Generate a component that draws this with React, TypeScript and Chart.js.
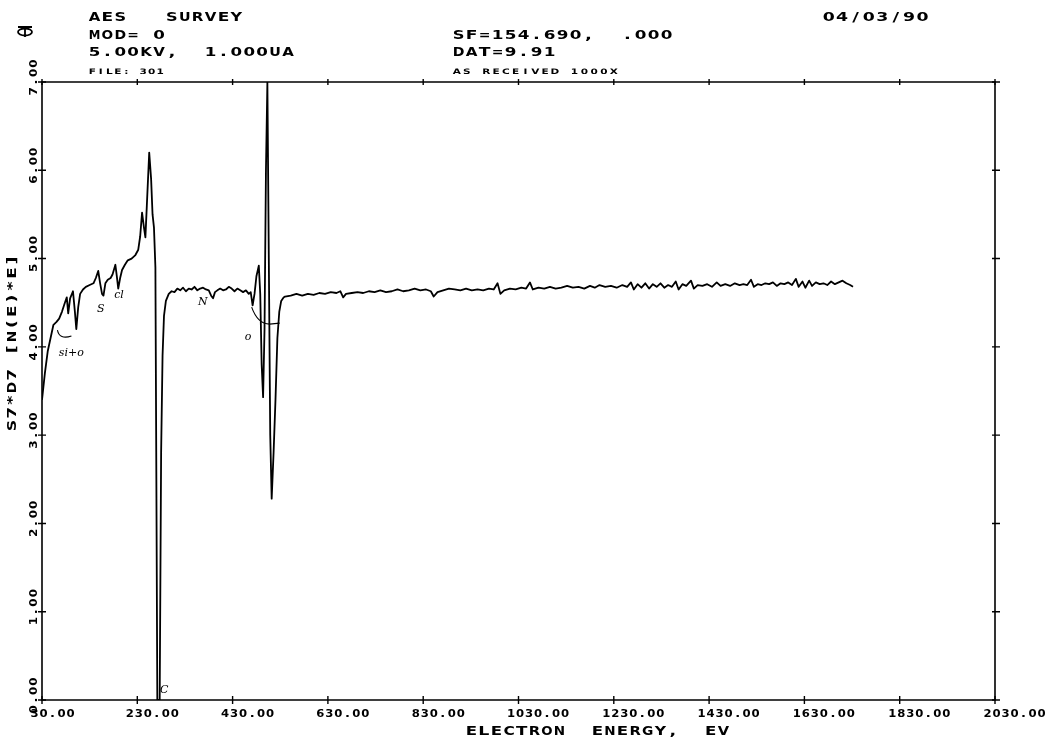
import React, { useEffect, useRef } from "react";
import { Chart, registerables } from "chart.js";

Chart.register(...registerables);

// ---- Data ----
const energyEV = [
  30, 36, 42, 48, 54, 60, 66, 72, 78, 82, 85, 89, 95, 99, 102, 106, 110, 116, 122, 130,
  138, 143, 148, 152, 156, 159, 163, 168, 174, 178, 184, 187, 190, 194, 198, 204, 210, 218, 226, 232,
  236, 240, 244, 247, 250, 255, 259, 262, 265, 268, 270, 272, 277, 280, 283, 286, 290, 296, 302, 308,
  314, 320, 326, 332, 338, 344, 350, 356, 362, 368, 374, 380, 385, 389, 393, 398, 404, 410, 416, 422,
  428, 434, 440, 446, 452, 458, 464, 468, 472, 476, 480, 485, 488, 491, 494, 497, 500, 503, 506, 509,
  512, 516, 520, 524, 528, 532, 537,
  540, 552, 564, 576, 588, 600, 612, 624, 636, 648, 656, 662, 668, 680, 692, 704, 716, 728, 740, 752,
  764, 776, 788, 800, 812, 824, 836, 846, 852, 860, 872, 884, 896, 908, 920, 932, 944, 956, 968, 978,
  986, 992, 1000, 1012, 1024, 1036, 1046, 1054, 1060, 1072, 1084, 1096, 1108, 1120, 1132, 1144, 1156, 1168, 1180, 1190,
  1200, 1212, 1224, 1236, 1248, 1258, 1266, 1272, 1280, 1288, 1296, 1304, 1312, 1320, 1328, 1336, 1344, 1352, 1360, 1366,
  1374, 1382, 1392, 1398, 1406, 1416, 1426, 1436, 1446, 1454, 1464, 1474, 1484, 1494, 1502, 1510, 1518, 1524, 1532, 1540,
  1548, 1556, 1564, 1572, 1580, 1588, 1596, 1604, 1612, 1618, 1626, 1632, 1640, 1646, 1654, 1662, 1670, 1678, 1686, 1694,
  1702, 1710, 1718, 1726, 1732,
];

const signalValues = [
  3.40, 3.70, 3.95, 4.10, 4.25, 4.28, 4.32, 4.40, 4.50, 4.56, 4.38, 4.55, 4.63, 4.40, 4.20, 4.45, 4.60, 4.65, 4.68, 4.70,
  4.72, 4.78, 4.86, 4.72, 4.60, 4.58, 4.72, 4.76, 4.78, 4.82, 4.93, 4.80, 4.66, 4.78, 4.87, 4.93, 4.98, 5.00, 5.04, 5.10,
  5.25, 5.52, 5.35, 5.24, 5.60, 6.20, 5.90, 5.50, 5.35, 4.90, 2.50, 0.00, 0.00, 2.80, 3.90, 4.35, 4.52, 4.60, 4.63, 4.62,
  4.66, 4.64, 4.67, 4.63, 4.66, 4.65, 4.68, 4.64, 4.66, 4.67, 4.65, 4.64, 4.58, 4.55, 4.62, 4.64, 4.66, 4.64, 4.65, 4.68,
  4.66, 4.63, 4.66, 4.64, 4.62, 4.64, 4.60, 4.62, 4.47, 4.60, 4.80, 4.92, 4.60, 3.80, 3.43, 4.20, 6.00, 7.00, 5.00, 3.00,
  2.28, 2.80, 3.40, 4.10, 4.40, 4.52, 4.56,
  4.57, 4.58, 4.60, 4.58, 4.60, 4.59, 4.61, 4.60, 4.62, 4.61, 4.63, 4.56, 4.60, 4.61, 4.62, 4.61, 4.63, 4.62, 4.64, 4.62,
  4.63, 4.65, 4.63, 4.64, 4.66, 4.64, 4.65, 4.63, 4.57, 4.62, 4.64, 4.66, 4.65, 4.64, 4.66, 4.64, 4.65, 4.64, 4.66, 4.65,
  4.72, 4.60, 4.64, 4.66, 4.65, 4.67, 4.66, 4.73, 4.65, 4.67, 4.66, 4.68, 4.66, 4.67, 4.69, 4.67, 4.68, 4.66, 4.69, 4.67,
  4.70, 4.68, 4.69, 4.67, 4.70, 4.68, 4.73, 4.65, 4.71, 4.67, 4.72, 4.66, 4.71, 4.68, 4.72, 4.67, 4.70, 4.68, 4.74, 4.65,
  4.71, 4.69, 4.75, 4.66, 4.70, 4.69, 4.71, 4.68, 4.73, 4.69, 4.71, 4.69, 4.72, 4.70, 4.71, 4.70, 4.76, 4.68, 4.71, 4.70,
  4.72, 4.71, 4.73, 4.69, 4.72, 4.71, 4.73, 4.70, 4.77, 4.68, 4.74, 4.67, 4.75, 4.69, 4.73, 4.71, 4.72, 4.70, 4.74, 4.71,
  4.73, 4.75, 4.72, 4.70, 4.68,
];

const xTickValues = [30, 230, 430, 630, 830, 1030, 1230, 1430, 1630, 1830, 2030];
const xTickLabels = ["30.00", "230.00", "430.00", "630.00", "830.00", "1030.00", "1230.00", "1430.00", "1630.00", "1830.00", "2030.00"];
const yTickValues = [0, 1, 2, 3, 4, 5, 6, 7];
const yTickLabels = ["0.00", "1.00", "2.00", "3.00", "4.00", "5.00", "6.00", "7.00"];

const headerLeft = ["AES   SURVEY", "MOD= 0", "5.00KV,  1.000UA"];
const headerRight = ["SF=154.690,  .000", "DAT=9.91"];
const headerDate = "04/03/90";
const fileNote = "FILE: 301";
const sampleNote = "AS RECEIVED 1000X";
const xTitle = "ELECTRON  ENERGY,  EV";
const yTitle = "S7*D7 [N(E)*E]";

// handwritten peak notes: [label, energy, value]
const noteLabels = ["si+o", "S", "cl", "N", "o", "C"];
const noteEnergy = [78, 158, 194, 370, 468, 290];
const noteValue = [3.90, 4.40, 4.55, 4.47, 4.08, 0.08];

function spaced(ctx: CanvasRenderingContext2D, text: string, x: number, y: number, size: number, pitch: number, sx: number) {
  ctx.font = `bold ${size}px "DejaVu Sans"`;
  ctx.textAlign = "center";
  for (let i = 0; i < text.length; i++) {
    const ch = text[i];
    if (ch === " ") continue;
    const w = ctx.measureText(ch).width || 1;
    const s = Math.min(sx, (pitch * 0.9) / w);
    ctx.save();
    ctx.translate(x + (i + 0.5) * pitch, y);
    ctx.scale(s, 1);
    ctx.fillText(ch, 0, 0);
    ctx.restore();
  }
}

const plotterPlugin = {
  id: "plotter",
  afterDraw(chart: any) {
    const ctx: CanvasRenderingContext2D = chart.ctx;
    const { left, right, top, bottom } = chart.chartArea;
    const xs = chart.scales.x;
    const ys = chart.scales.y;
    ctx.save();
    ctx.strokeStyle = "#000";
    ctx.fillStyle = "#000";
    ctx.lineWidth = 1.6;
    // frame
    ctx.beginPath();
    ctx.moveTo(left, top);
    ctx.lineTo(right, top);
    ctx.lineTo(right, bottom);
    ctx.lineTo(left, bottom);
    ctx.closePath();
    ctx.stroke();
    // ticks
    ctx.lineWidth = 1.4;
    ctx.beginPath();
    xTickValues.forEach((v) => {
      const px = xs.getPixelForValue(v);
      ctx.moveTo(px, bottom - 4); ctx.lineTo(px, bottom + 4);
      ctx.moveTo(px, top - 3); ctx.lineTo(px, top + 3);
    });
    yTickValues.forEach((v) => {
      const py = ys.getPixelForValue(v);
      ctx.moveTo(left - 4, py); ctx.lineTo(left + 4, py);
      ctx.moveTo(right - 3, py); ctx.lineTo(right + 5, py);
    });
    ctx.stroke();

    // x tick labels
    ctx.textBaseline = "alphabetic";
    xTickValues.forEach((v, i) => {
      const px = xs.getPixelForValue(v);
      spaced(ctx, xTickLabels[i], px - 12, bottom + 17, 10, 9, 1.3);
    });
    // y tick labels (rotated)
    yTickValues.forEach((v, i) => {
      const py = ys.getPixelForValue(v);
      ctx.save();
      ctx.translate(left - 8, py);
      ctx.rotate(-Math.PI / 2);
      ctx.textBaseline = "middle";
      spaced(ctx, yTickLabels[i], -14, 0, 10, 9.3, 1.3);
      ctx.restore();
    });
    // axis titles
    ctx.textBaseline = "alphabetic";
    spaced(ctx, xTitle, 465, bottom + 35, 12, 12.6, 1.45);
    ctx.save();
    ctx.translate(13, 343);
    ctx.rotate(-Math.PI / 2);
    ctx.textBaseline = "middle";
    spaced(ctx, yTitle, -yTitle.length * 12.7 / 2, 0, 12.5, 12.7, 1.4);
    ctx.restore();

    // header block
    ctx.textBaseline = "alphabetic";
    headerLeft.forEach((t, i) => spaced(ctx, t, 88, 21 + i * 17.5, 12.5, 12.9, 1.45));
    headerRight.forEach((t, i) => spaced(ctx, t, 452, 38.5 + i * 17.5, 12.5, 13, 1.45));
    spaced(ctx, headerDate, 822, 21, 12.5, 13.4, 1.45);
    spaced(ctx, fileNote, 88, 74, 7.5, 8.5, 1.4);
    spaced(ctx, sampleNote, 452, 74, 7.5, 9.8, 1.4);

    // logo
    ctx.lineWidth = 1.8;
    ctx.beginPath();
    ctx.moveTo(18, 27); ctx.lineTo(32, 27);
    ctx.moveTo(25, 27); ctx.lineTo(25, 37);
    ctx.stroke();
    ctx.beginPath();
    ctx.ellipse(25, 32, 7, 3.5, 0, 0, Math.PI * 2);
    ctx.stroke();

    // handwritten notes
    ctx.lineWidth = 1.1;
    ctx.font = 'italic 11px "DejaVu Serif"';
    ctx.textAlign = "left";
    ctx.textBaseline = "alphabetic";
    noteLabels.forEach((t, i) => {
      const px = xs.getPixelForValue(noteEnergy[i]);
      const py = ys.getPixelForValue(noteValue[i]);
      ctx.fillText(t, px - 6, py);
    });
    // small arcs under Si+O and O
    ctx.beginPath();
    const a1x = xs.getPixelForValue(75), a1y = ys.getPixelForValue(4.1);
    ctx.moveTo(a1x - 6, a1y - 8);
    ctx.quadraticCurveTo(a1x - 4, a1y + 2, a1x + 8, a1y - 2);
    const a2x = xs.getPixelForValue(470), a2y = ys.getPixelForValue(4.45);
    ctx.moveTo(a2x, a2y);
    ctx.quadraticCurveTo(a2x + 6, a2y + 17, a2x + 18, a2y + 17);
    ctx.lineTo(a2x + 28, a2y + 16);
    ctx.stroke();
    ctx.restore();
  },
};

export default function App() {
  const canvasRef = useRef<HTMLCanvasElement | null>(null);
  useEffect(() => {
    document.body.style.margin = "0";
    const canvas = canvasRef.current;
    if (!canvas) return;
    const chart = new Chart(canvas, {
      type: "line",
      data: {
        datasets: [
          {
            data: energyEV.map((e, i) => ({ x: e, y: signalValues[i] })),
            borderColor: "#000",
            borderWidth: 1.8,
            pointRadius: 0,
            tension: 0,
            fill: false,
            borderJoinStyle: "round",
          },
        ],
      },
      options: {
        animation: false,
        responsive: false,
        devicePixelRatio: 1,
        layout: { padding: { left: 42, right: 56, top: 82, bottom: 47 } },
        plugins: { legend: { display: false }, tooltip: { enabled: false } },
        scales: {
          x: { type: "linear", min: 30, max: 2030, display: false },
          y: { type: "linear", min: 0, max: 7, display: false },
        },
      },
      plugins: [plotterPlugin],
    } as any);
    return () => chart.destroy();
  }, []);
  return (
    <div style={{ position: "absolute", left: 0, top: 0, width: 1051, height: 747, background: "#fff" }}>
      <canvas ref={canvasRef} width={1051} height={747} />
    </div>
  );
}
